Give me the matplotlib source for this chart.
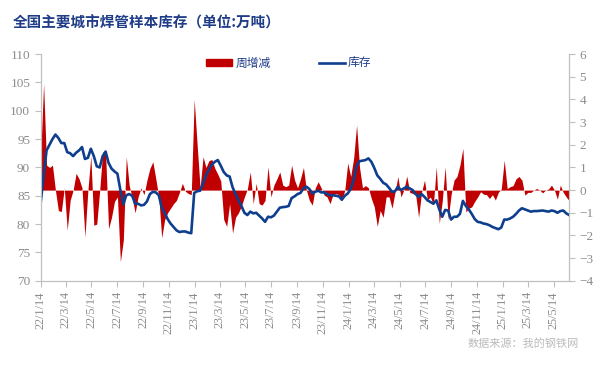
import pandas as pd
import numpy as np
import matplotlib
matplotlib.use("Agg")
import matplotlib.pyplot as plt
from matplotlib.patches import Patch
from matplotlib.lines import Line2D

plt.rcParams['font.family'] = ['Noto Sans CJK SC', 'DejaVu Sans']

# weekly data, first week 2022-01-14
start_date = "2022-01-14"

# 库存 (万吨), left axis
stock = [
    83.7, 88.5, 93.0, 94.0, 95.0, 95.8, 95.2, 94.3, 94.3, 92.7,
    92.5, 92.0, 92.6, 93.0, 93.6, 91.5, 91.7, 93.3, 92.0, 90.2,
    90.0, 92.0, 92.8, 90.8, 89.8, 89.3, 88.9, 86.0, 83.5, 85.1,
    85.3, 85.0, 83.6, 83.6, 83.3, 83.4, 84.0, 85.3, 85.7, 85.6,
    85.1, 83.0, 82.0, 80.9, 80.1, 79.5, 78.9, 78.6, 78.7, 78.7,
    78.5, 78.4, 85.5, 85.8, 85.9, 87.2, 88.6, 89.6, 90.5, 91.0,
    91.3, 90.3, 89.2, 88.6, 88.4, 86.5, 85.3, 84.2, 83.2, 82.0,
    81.6, 82.2, 81.9, 82.0, 81.5, 81.0, 80.4, 81.3, 81.2, 81.5,
    82.2, 82.9, 83.0, 83.05, 83.2, 84.6, 84.9, 85.3, 85.5, 86.3,
    86.6, 86.2, 85.4, 85.7, 85.9, 85.6, 85.6, 85.3, 85.1, 85.1,
    85.0, 84.9, 84.3, 85.0, 85.4, 86.2, 87.8, 90.3, 91.1, 91.2,
    91.3, 91.6, 91.0, 89.9, 88.6, 88.0, 87.3, 87.0, 86.4, 85.7,
    85.8, 86.6, 86.0, 86.3, 86.6, 86.3, 86.0, 85.3, 84.8, 85.3,
    84.8, 84.2, 83.9, 83.6, 84.2, 82.6, 81.3, 82.5, 82.4, 80.8,
    81.3, 81.3, 81.8, 84.1, 83.2, 82.6, 81.8, 80.9, 80.4, 80.3,
    80.1, 80.0, 79.8, 79.5, 79.3, 79.1, 79.4, 80.8, 80.8, 81.0,
    81.3, 81.8, 82.4, 82.8, 82.6, 82.4, 82.2, 82.3, 82.3, 82.35,
    82.4, 82.3, 82.2, 82.4, 82.3, 82.0, 82.3, 82.4, 81.9, 81.6,
]

# 周增减 (万吨), right axis
change = [
    1.5, 4.7, 1.1, 1.0, 1.1, 0.0, -0.9, -0.95, 0.1, -1.76,
    -0.45, 0.0, 0.74, 0.5, 0.1, -2.06, 0.0, 1.5, -1.55, -1.5,
    0.0, 1.7, 1.6, -1.7, -1.2, -0.5, -0.3, -3.16, -2.2, 1.47,
    0.2, -0.35, -1.0, -0.3, 0.1, -0.2, 0.44, 0.96, 1.25, 0.5,
    -0.3, -2.1, -1.3, -1.0, -0.8, -0.6, -0.45, -0.1, 0.3, -0.05,
    -0.15, -0.2, 4.0, 2.0, 0.1, 1.47, 1.0, 1.3, 1.35, 0.96,
    0.7, 0.4, -1.3, -1.6, -0.6, -1.9, -1.2, -1.0, -0.7, -0.3,
    0.05, 0.8, -0.6, 0.3, -0.6, -0.66, -0.45, 1.03, -0.3, 0.22,
    0.5, 0.8, 0.22, 0.15, 0.22, 1.1, 0.44, 0.1, 0.5, 1.0,
    0.0, -0.45, -0.66, 0.1, 0.37, 0.1, -0.22, -0.3, -0.6, -0.2,
    -0.15, -0.2, -0.45, 0.0, 1.2, 0.6, 1.4, 2.87, 1.0, 0.1,
    0.2, 0.1, -0.37, -0.74, -1.6, -0.9, -1.2, -0.3, -0.3, -0.8,
    -0.1, 0.6, -0.3, 0.0, 0.62, -0.1, -0.15, -0.2, -1.2, -0.1,
    0.44, -0.44, -0.3, -0.66, 1.03, -1.47, -0.5, 1.03, -1.3, -0.2,
    0.44, 0.6, 1.1, 1.84, -0.96, -0.8, -0.74, -0.5, -0.3, -0.07,
    -0.18, -0.2, -0.37, -0.2, -0.44, -0.1, 0.05, 1.32, 0.07, 0.15,
    0.2, 0.5, 0.6, 0.44, -0.22, -0.1, -0.1, 0.0, 0.07, 0.0,
    -0.12, 0.0, 0.05, 0.22, 0.0, -0.4, 0.22, -0.1, -0.3, -0.47,
]

tick_labels = ["22/1/14", "22/3/14", "22/5/14", "22/7/14", "22/9/14", "22/11/14",
               "23/1/14", "23/3/14", "23/5/14", "23/7/14", "23/9/14", "23/11/14",
               "24/1/14", "24/3/14", "24/5/14", "24/7/14", "24/9/14", "24/11/14",
               "25/1/14", "25/3/14", "25/5/14"]

dates = pd.date_range(start_date, periods=len(stock), freq="7D")
tick_dates = [pd.Timestamp("20" + t.split("/")[0] + "-" + t.split("/")[1] + "-" + t.split("/")[2])
              for t in tick_labels]

red = "#C00000"
blue = "#0E3F8E"
grey = "#8C8C8C"

fig = plt.figure(figsize=(6.16, 3.68), dpi=100)
ax = fig.add_axes([0.066, 0.237, 0.858, 0.616])
ax2 = ax.twinx()

ax2.fill_between(dates, 0, change, color=red, linewidth=0)
ax.plot(dates, stock, color=blue, linewidth=1.9)
ax.set_zorder(ax2.get_zorder() + 1)
ax.patch.set_visible(False)

ax.set_xlim(dates[0], dates[-1])
ax.set_ylim(70, 110)
ax.set_yticks(range(70, 111, 5))
ax2.set_ylim(-4, 6)
ax2.set_yticks(range(-4, 7))
ax.set_xticks(tick_dates)
ax.set_xticklabels(tick_labels, rotation=90)

for a in (ax, ax2):
    for s in a.spines.values():
        s.set_color("#BFBFBF")
    a.spines["top"].set_visible(False)
    a.tick_params(colors="#BFBFBF", labelcolor=grey, length=4, width=0.8)
    for lab in a.get_yticklabels() + a.get_xticklabels():
        lab.set_family("Liberation Serif")
        lab.set_fontsize(9.5)
for lab in ax.get_xticklabels():
    lab.set_fontsize(8.8)

fig.text(0.02, 0.94, "全国主要城市焊管样本库存（单位:万吨）", color="#1F3C88",
         fontsize=10.5, fontweight="bold", ha="left", va="center")

handles = [Patch(color=red), Line2D([], [], color=blue, linewidth=1.9)]
leg = fig.legend(handles, ["周增减", "库存"], loc="center", ncol=2,
                 bbox_to_anchor=(0.469, 0.829), frameon=False, fontsize=8.5,
                 columnspacing=4.1, handlelength=2.2, handleheight=0.5,
                 handletextpad=0.25)
for t in leg.get_texts():
    t.set_color("#1F3C88")

fig.text(0.94, 0.067, "数据来源：我的钢铁网", color="#BBBBBB", fontsize=8,
         ha="right", va="center")

fig.savefig("out.png", dpi=100)
